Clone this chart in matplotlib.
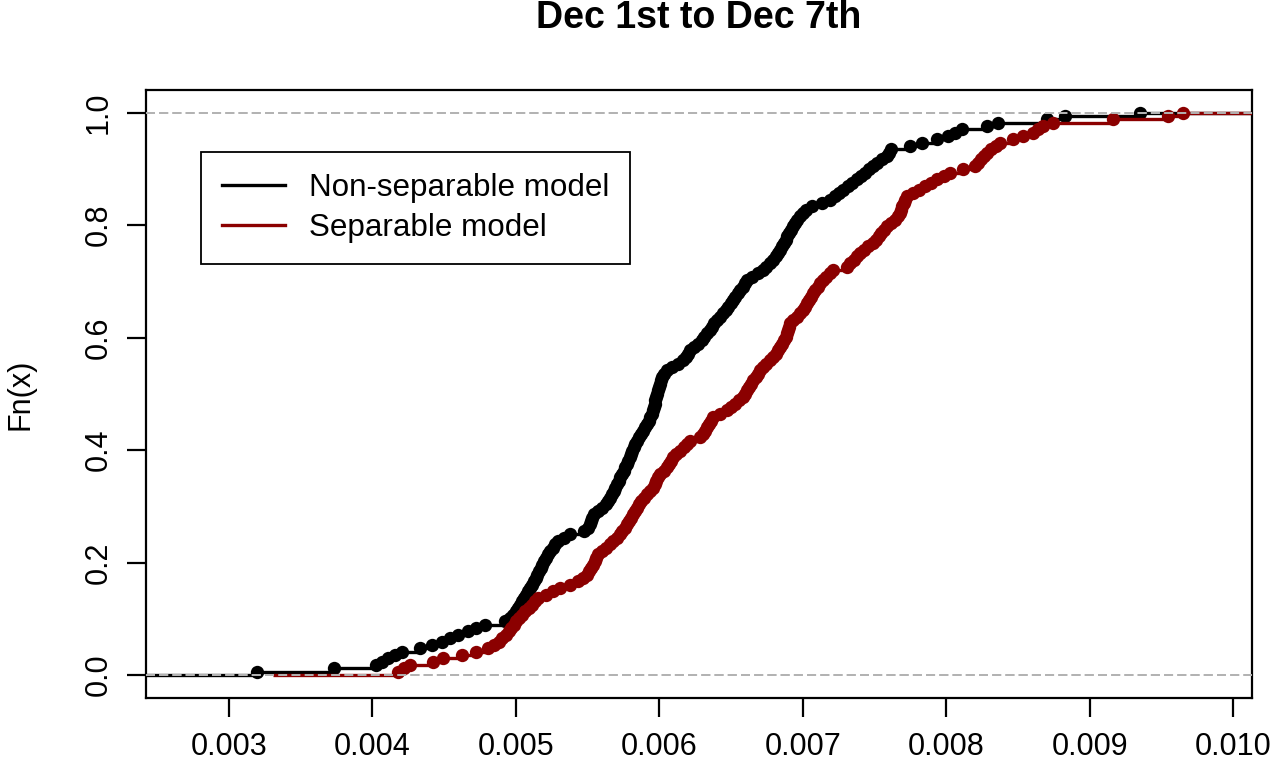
import numpy as np
import matplotlib
matplotlib.use("Agg")
import matplotlib.pyplot as plt
from matplotlib.lines import Line2D

plt.rcParams['font.family'] = ['Liberation Sans', 'DejaVu Sans']

title = "Dec 1st to Dec 7th"
ylabel = "Fn(x)"
series_names = ["Non-separable model", "Separable model"]
series_colors = ["#000000", "#8B0000"]

# sorted sample values, in units of 1e-3
nonsep_e3 = [
    3.195, 3.732, 4.024, 4.066, 4.108, 4.157, 4.206, 4.331, 4.415, 4.484,
    4.540, 4.596, 4.666, 4.721, 4.784, 4.923, 4.958, 4.979, 5.000, 5.014,
    5.028, 5.042, 5.056, 5.070, 5.084, 5.098, 5.111, 5.125, 5.139, 5.146,
    5.160, 5.174, 5.181, 5.195, 5.209, 5.223, 5.237, 5.258, 5.272, 5.293,
    5.334, 5.376, 5.474, 5.502, 5.516, 5.523, 5.530, 5.544, 5.571, 5.599,
    5.627, 5.641, 5.655, 5.669, 5.683, 5.690, 5.704, 5.718, 5.725, 5.739,
    5.753, 5.760, 5.774, 5.780, 5.794, 5.801, 5.808, 5.822, 5.829, 5.843,
    5.857, 5.871, 5.885, 5.899, 5.913, 5.927, 5.934, 5.948, 5.955, 5.962,
    5.969, 5.972, 5.976, 5.983, 5.990, 5.997, 6.003, 6.010, 6.017, 6.031,
    6.052, 6.087, 6.129, 6.164, 6.185, 6.199, 6.213, 6.240, 6.268, 6.296,
    6.310, 6.331, 6.352, 6.366, 6.380, 6.401, 6.422, 6.443, 6.463, 6.477,
    6.498, 6.512, 6.526, 6.547, 6.561, 6.582, 6.596, 6.610, 6.645, 6.686,
    6.721, 6.742, 6.770, 6.791, 6.812, 6.826, 6.840, 6.854, 6.868, 6.882,
    6.889, 6.902, 6.916, 6.930, 6.944, 6.958, 6.979, 7.000, 7.021, 7.063,
    7.132, 7.188, 7.223, 7.251, 7.279, 7.314, 7.341, 7.376, 7.404, 7.432,
    7.460, 7.488, 7.516, 7.551, 7.585, 7.599, 7.613, 7.746, 7.829, 7.934,
    8.010, 8.059, 8.108, 8.282, 8.359, 8.700, 8.826, 9.348,
]

sep_e3 = [
    4.178, 4.220, 4.261, 4.422, 4.491, 4.624, 4.721, 4.805, 4.847, 4.882,
    4.902, 4.930, 4.951, 4.965, 4.986, 5.000, 5.021, 5.042, 5.063, 5.091,
    5.111, 5.132, 5.153, 5.209, 5.258, 5.307, 5.376, 5.432, 5.467, 5.495,
    5.509, 5.523, 5.537, 5.551, 5.557, 5.571, 5.599, 5.627, 5.655, 5.676,
    5.704, 5.725, 5.739, 5.760, 5.774, 5.787, 5.801, 5.815, 5.829, 5.843,
    5.857, 5.871, 5.892, 5.913, 5.934, 5.955, 5.969, 5.976, 5.990, 6.003,
    6.031, 6.052, 6.066, 6.080, 6.094, 6.115, 6.143, 6.171, 6.192, 6.213,
    6.282, 6.303, 6.317, 6.331, 6.345, 6.359, 6.373, 6.422, 6.470, 6.498,
    6.526, 6.554, 6.582, 6.596, 6.610, 6.624, 6.638, 6.652, 6.672, 6.686,
    6.700, 6.721, 6.742, 6.770, 6.791, 6.812, 6.826, 6.840, 6.854, 6.868,
    6.882, 6.889, 6.895, 6.902, 6.909, 6.930, 6.958, 6.979, 7.000, 7.014,
    7.028, 7.042, 7.056, 7.070, 7.084, 7.105, 7.118, 7.139, 7.160, 7.188,
    7.209, 7.307, 7.328, 7.355, 7.376, 7.397, 7.425, 7.453, 7.488, 7.509,
    7.530, 7.544, 7.564, 7.585, 7.613, 7.641, 7.662, 7.676, 7.683, 7.690,
    7.704, 7.711, 7.725, 7.767, 7.808, 7.850, 7.892, 7.934, 7.983, 8.024,
    8.115, 8.199, 8.220, 8.240, 8.261, 8.282, 8.310, 8.345, 8.373, 8.463,
    8.533, 8.603, 8.638, 8.672, 8.742, 9.160, 9.544, 9.648,
]

# left end of the lower (Fn=0) segment of each curve, in units of 1e-3
zero_start_e3 = [2.0, 3.307]

x_ticks = [0.003, 0.004, 0.005, 0.006, 0.007, 0.008, 0.009, 0.010]
x_tick_labels = ["0.003", "0.004", "0.005", "0.006", "0.007", "0.008", "0.009", "0.010"]
y_ticks = [0.0, 0.2, 0.4, 0.6, 0.8, 1.0]
y_tick_labels = ["0.0", "0.2", "0.4", "0.6", "0.8", "1.0"]
x_limits = (0.002422, 0.010129)
y_limits = (-0.04, 1.04)

W, H = 1273, 768
fig = plt.figure(figsize=(W / 100, H / 100), dpi=100)
ax = fig.add_axes([146 / W, 1 - 697.5 / H, (1252 - 146) / W, (697.5 - 90) / H])
ax.set_xlim(*x_limits)
ax.set_ylim(*y_limits)

z = 2
for vals, color, zs in zip([nonsep_e3, sep_e3], series_colors, zero_start_e3):
    xs = np.array(vals) * 1e-3
    n = len(xs)
    ys = np.arange(1, n + 1) / n
    right = x_limits[1] + 0.001
    starts = np.concatenate([[zs * 1e-3], xs])
    ends = np.concatenate([xs, [right]])
    levels = np.concatenate([[0.0], ys])
    ax.hlines(levels, starts, ends, colors=color, linewidth=2.4, zorder=z)
    ax.plot(xs, ys, linestyle='none', marker='o', markersize=9.6,
            color=color, markeredgewidth=0, zorder=z)
    for h in (0.0, 1.0):
        ax.axhline(h, color='#B3B3B3', linewidth=1.4, linestyle=(0, (4.6, 2.2)), zorder=z + 1)
    z += 2

for s in ax.spines.values():
    s.set_linewidth(1.6)
    s.set_color('black')

ax.set_xticks(x_ticks)
ax.set_xticklabels(x_tick_labels)
ax.set_yticks(y_ticks)
ax.set_yticklabels(y_tick_labels, rotation=90, va='center')
ax.tick_params(axis='both', which='major', length=14, width=1.6, labelsize=22,
               color='black')
ax.tick_params(axis='x', pad=11)
ax.tick_params(axis='y', pad=9)

fig.text((146 + 1252) / 2 / W, 1 - 18 / H, title, ha='center', va='center',
         fontsize=27, fontweight='bold')
fig.text(20 / W, 1 - 394 / H, ylabel, ha='center', va='center', rotation=90,
         fontsize=22)

handles = [Line2D([0], [0], color=c, linewidth=2.4) for c in series_colors]
leg = ax.legend(handles, series_names, loc='upper left',
                bbox_to_anchor=(201 / W, 1 - 152 / H),
                bbox_transform=fig.transFigure, borderaxespad=0,
                fancybox=False, framealpha=1, edgecolor='black',
                fontsize=22.6, handlelength=2.0, handletextpad=0.75,
                labelspacing=0.3, borderpad=0.68)
leg.get_frame().set_linewidth(1.3)
leg.set_zorder(10)

fig.savefig("out.png", dpi=100)
